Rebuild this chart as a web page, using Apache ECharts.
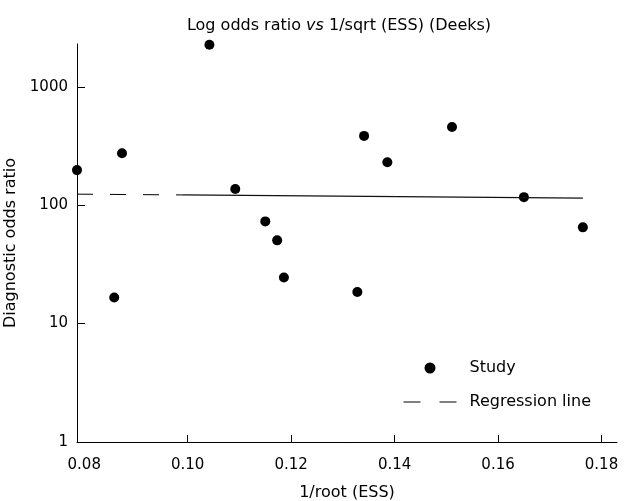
<!DOCTYPE html>
<html><head><meta charset="utf-8">
<script src="https://cdn.jsdelivr.net/npm/echarts@6/dist/echarts.min.js"></script>
<style>html,body{margin:0;padding:0;background:#fff}#c{width:625px;height:501px}</style>
</head><body><div id="c"></div>
<script>
// Study points: x = 1/root(ESS), y = diagnostic odds ratio
const studyX = [0.0786, 0.0858, 0.0873, 0.1042, 0.1092, 0.1150, 0.1173, 0.1186, 0.1328, 0.1341, 0.1386, 0.1511, 0.1650, 0.1764];
const studyY = [198, 16.6, 275, 2270, 137, 73, 50.5, 24.5, 18.5, 385, 231, 458, 117, 65];
// Regression line (fitted), dashed part then solid part
const regDashX = [0.0786, 0.0991];
const regDashY = [124, 122.1];
const regSolidX = [0.0991, 0.1764];
const regSolidY = [122.1, 115];
const xTicks = [0.08, 0.10, 0.12, 0.14, 0.16, 0.18];
const yTicks = [1, 10, 100, 1000];

const FONT = 'DejaVu Sans';
const chart = echarts.init(document.getElementById('c'), null, {renderer: 'canvas'});
chart.setOption({
  animation: false,
  backgroundColor: '#fff',
  textStyle: {fontFamily: FONT, color: '#000'},
  title: {
    text: '{a|Log odds ratio }{b|vs}{a| 1/sqrt (ESS) (Deeks)}',
    left: 334, textAlign: 'center', top: 13,
    textStyle: {rich: {
      a: {fontFamily: FONT, fontSize: 16, fontWeight: 'normal', color: '#000'},
      b: {fontFamily: FONT, fontSize: 16, fontWeight: 'normal', color: '#000', fontStyle: 'italic'}
    }}
  },
  grid: {left: 77, right: 8, top: 44, bottom: 59, containLabel: false, outerBoundsMode: 'none'},
  legend: {
    orient: 'vertical', left: 398, top: 355,
    itemWidth: 53, itemHeight: 11, itemGap: 18,
    textStyle: {fontFamily: FONT, fontSize: 16, color: '#000', padding: [0, 0, 0, 8]},
    data: [
      {name: 'Study', icon: 'circle', itemStyle: {color: '#000', opacity: 1}},
      {name: 'Regression line', itemStyle: {opacity: 0}, lineStyle: {type: [17, 19], color: '#000', width: 1, opacity: 1}}
    ]
  },
  xAxis: {
    type: 'value', min: 0.0786, max: 0.183,
    name: '1/root (ESS)', nameLocation: 'middle', nameGap: 43,
    nameTextStyle: {fontFamily: FONT, fontSize: 16, color: '#000'},
    axisLine: {lineStyle: {color: '#000', width: 1}},
    axisTick: {inside: true, length: 7, customValues: xTicks.slice(1), lineStyle: {color: '#000'}},
    axisLabel: {customValues: xTicks, formatter: v => v.toFixed(2), fontFamily: FONT, fontSize: 15, color: '#000', margin: 16},
    splitLine: {show: false}
  },
  yAxis: {
    type: 'log', logBase: 10, min: 1, max: 2300,
    name: 'Diagnostic odds ratio', nameLocation: 'middle', nameGap: 51,
    nameTextStyle: {fontFamily: FONT, fontSize: 16, color: '#000'},
    axisLine: {show: true, lineStyle: {color: '#000', width: 1}},
    axisTick: {inside: true, length: 8, customValues: yTicks, lineStyle: {color: '#000'}},
    axisLabel: {customValues: yTicks, formatter: v => String(Math.round(v)), fontFamily: FONT, fontSize: 15, color: '#000', margin: 9},
    splitLine: {show: false}
  },
  series: [
    {
      name: 'Study', type: 'scatter', symbol: 'circle', symbolSize: 10,
      itemStyle: {color: '#000', opacity: 1},
      data: studyX.map((x, i) => [x, studyY[i]])
    },
    {
      name: 'Regression line', type: 'line', symbol: 'none',
      lineStyle: {color: '#000', width: 1, type: [16, 17]},
      data: regDashX.map((x, i) => [x, regDashY[i]])
    },
    {
      name: 'reg-solid', type: 'line', symbol: 'none',
      lineStyle: {color: '#111', width: 1.2},
      data: regSolidX.map((x, i) => [x, regSolidY[i]])
    }
  ]
});
</script></body></html>
